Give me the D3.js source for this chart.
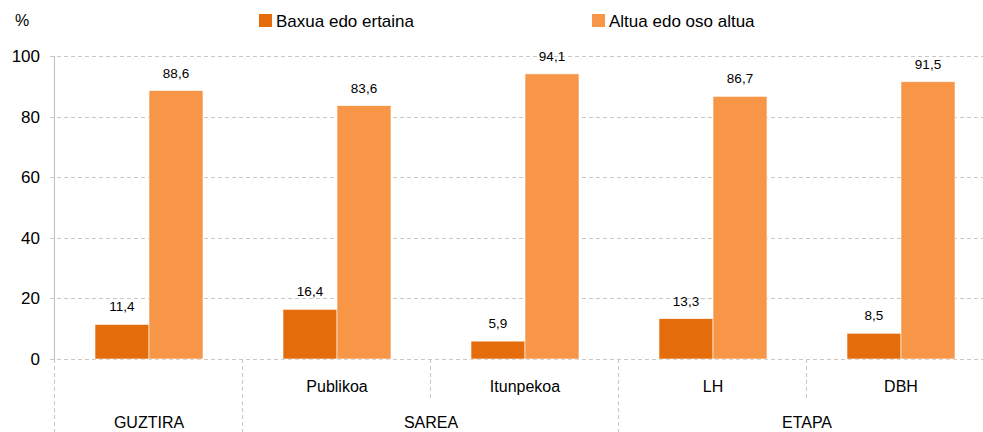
<!DOCTYPE html>
<html>
<head>
<meta charset="utf-8">
<script src="https://cdn.jsdelivr.net/npm/d3@7"></script>
<style>
  body { margin: 0; background: #fff; }
  svg { font-family: "Liberation Sans", Arial, sans-serif; }
</style>
</head>
<body>
<div id="vis"></div>
<script>
var categories = ['GUZTIRA', 'Publikoa', 'Itunpekoa', 'LH', 'DBH'];
var subLabels = ['', 'Publikoa', 'Itunpekoa', 'LH', 'DBH'];
var groups = [
  { name: 'GUZTIRA', from: 0, to: 0 },
  { name: 'SAREA', from: 1, to: 2 },
  { name: 'ETAPA', from: 3, to: 4 }
];
var seriesNames = ['Baxua edo ertaina', 'Altua edo oso altua'];
var baxua = [11.4, 16.4, 5.9, 13.3, 8.5];
var altua = [88.6, 83.6, 94.1, 86.7, 91.5];
var yTicks = [0, 20, 40, 60, 80, 100];

var width = 983,
    height = 432,
    plotLeft = 55,
    plotRight = 995,
    plotTop = 56,
    plotBottom = 359;

var colors = ['#e46c0a', '#f79646'];
var gridColor = '#c8c8c8';

var svg = d3.select('#vis')
  .append('svg')
    .attr('width', width)
    .attr('height', height);

var yScale = d3.scaleLinear()
  .domain([0, 100])
  .range([plotBottom, plotTop]);

var xScale = d3.scaleBand()
  .domain(categories)
  .range([plotLeft, plotRight])
  .padding(0);

var inner = d3.scaleBand()
  .domain(seriesNames)
  .range([40, 148])
  .padding(0);

// grid lines
svg.append('g')
  .selectAll('line')
  .data(yTicks)
  .enter()
  .append('line')
    .attr('x1', plotLeft - 5)
    .attr('x2', width)
    .attr('y1', function(d) { return Math.round(yScale(d)) + 0.5; })
    .attr('y2', function(d) { return Math.round(yScale(d)) + 0.5; })
    .attr('stroke', gridColor)
    .attr('stroke-dasharray', '4,3');

// y axis
var yAxis = d3.axisLeft(yScale)
  .tickValues(yTicks)
  .tickSize(0)
  .tickPadding(15);

svg.append('g')
  .attr('transform', 'translate(' + plotLeft + ',0)')
  .call(yAxis)
  .call(function(g) {
    g.select('.domain').remove();
    g.selectAll('text')
      .attr('font-size', 17)
      .attr('fill', '#000')
      .attr('font-family', '"Liberation Sans", Arial, sans-serif');
  });

svg.append('line')
  .attr('x1', plotLeft - 0.5)
  .attr('x2', plotLeft - 0.5)
  .attr('y1', plotTop)
  .attr('y2', plotBottom)
  .attr('stroke', '#bfbfbf');

svg.append('text')
  .attr('x', 22)
  .attr('y', 26)
  .attr('text-anchor', 'middle')
  .attr('font-size', 16)
  .text('%');

// bars
var data = categories.map(function(c, i) {
  return { cat: c, values: [baxua[i], altua[i]] };
});

var cat = svg.append('g')
  .selectAll('g')
  .data(data)
  .enter()
  .append('g')
    .attr('transform', function(d) { return 'translate(' + xScale(d.cat) + ',0)'; });

cat.selectAll('rect')
  .data(function(d) { return d.values; })
  .enter()
  .append('rect')
    .attr('x', function(d, i) { return inner(seriesNames[i]); })
    .attr('width', inner.bandwidth())
    .attr('y', function(d) { return yScale(d); })
    .attr('height', function(d) { return yScale(0) - yScale(d); })
    .attr('fill', function(d, i) { return colors[i]; })
    .attr('stroke', '#fff')
    .attr('stroke-width', 0.6);

cat.selectAll('text.val')
  .data(function(d) { return d.values; })
  .enter()
  .append('text')
    .attr('class', 'val')
    .attr('x', function(d, i) { return inner(seriesNames[i]) + inner.bandwidth() / 2; })
    .attr('y', function(d) { return yScale(d) - 13; })
    .attr('text-anchor', 'middle')
    .attr('font-size', 13.5)
    .text(function(d) { return d.toFixed(1).replace('.', ','); });

// category axis below
var sepFull = [0, 1, 3];
var sepHalf = [2, 4];

svg.append('g')
  .selectAll('line')
  .data(sepFull)
  .enter()
  .append('line')
    .attr('x1', function(d) { return xScale(categories[d]) - 0.5; })
    .attr('x2', function(d) { return xScale(categories[d]) - 0.5; })
    .attr('y1', plotBottom)
    .attr('y2', height)
    .attr('stroke', gridColor)
    .attr('stroke-dasharray', '4,3');

svg.append('g')
  .selectAll('line')
  .data(sepHalf)
  .enter()
  .append('line')
    .attr('x1', function(d) { return xScale(categories[d]) - 0.5; })
    .attr('x2', function(d) { return xScale(categories[d]) - 0.5; })
    .attr('y1', plotBottom)
    .attr('y2', 398)
    .attr('stroke', gridColor)
    .attr('stroke-dasharray', '4,3');

svg.append('g')
  .selectAll('text')
  .data(subLabels)
  .enter()
  .append('text')
    .attr('x', function(d, i) { return xScale(categories[i]) + xScale.bandwidth() / 2; })
    .attr('y', 392)
    .attr('text-anchor', 'middle')
    .attr('font-size', 16)
    .text(function(d) { return d; });

svg.append('g')
  .selectAll('text')
  .data(groups)
  .enter()
  .append('text')
    .attr('x', function(d) {
      return (xScale(categories[d.from]) + xScale(categories[d.to]) + xScale.bandwidth()) / 2;
    })
    .attr('y', 428)
    .attr('text-anchor', 'middle')
    .attr('font-size', 16)
    .text(function(d) { return d.name; });

// legend
var legendX = [259, 592];
var legend = svg.append('g')
  .selectAll('g')
  .data(seriesNames)
  .enter()
  .append('g')
    .attr('transform', function(d, i) { return 'translate(' + legendX[i] + ',14)'; });

legend.append('rect')
  .attr('width', 13)
  .attr('height', 13)
  .attr('fill', function(d, i) { return colors[i]; });

legend.append('text')
  .attr('x', 17)
  .attr('y', 13)
  .attr('font-size', 17)
  .text(function(d) { return d; });
</script>
</body>
</html>
